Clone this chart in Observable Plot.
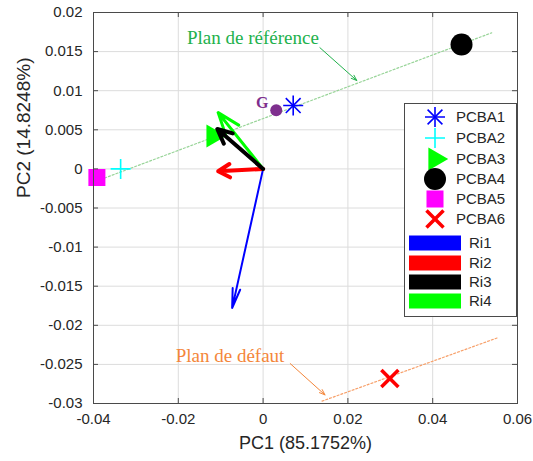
<!DOCTYPE html>
<html>
<head>
<meta charset="utf-8">
<script src="https://cdn.jsdelivr.net/npm/d3@7"></script>
<script src="https://cdn.jsdelivr.net/npm/@observablehq/plot@0.6"></script>
<style>
  body { margin: 0; background: #fff; }
  #wrap { position: relative; width: 533px; height: 461px; }
  #legend { position: absolute; }
</style>
</head>
<body>
<div id="wrap"></div>
<script>
// ---- data ----
const pcbaNames = ["PCBA1", "PCBA2", "PCBA3", "PCBA4", "PCBA5", "PCBA6"];
const pcbaX = [0.0071, -0.0336, -0.0118, 0.0468, -0.0392, 0.0299];
const pcbaY = [0.0081, 0.0000, 0.0042, 0.0159, -0.0011, -0.0268];

const riNames = ["Ri1", "Ri2", "Ri3", "Ri4"];
const riX = [-0.0073, -0.0106, -0.0108, -0.0106];
const riY = [-0.0178, -0.0003, 0.0051, 0.0072];

const gLabel = "G";
const gX = [0.0031];
const gY = [0.0075];

const refLineX = [-0.0400, 0.0539];
const refLineY = [-0.0017, 0.0174];
const defLineX = [0.0139, 0.0553];
const defLineY = [-0.0297, -0.0216];

const annLabels = ["Plan de référence", "Plan de défaut"];
const annTextX = [-0.0024, -0.0078];
const annTextY = [0.0168, -0.0239];
const annArrowX1 = [0.0134, 0.0064];
const annArrowY1 = [0.0155, -0.0249];
const annArrowX2 = [0.0221, 0.0146];
const annArrowY2 = [0.0113, -0.0289];

const xTicks = [-0.04, -0.02, 0, 0.02, 0.04, 0.06];
const xTickLabels = ["-0.04", "-0.02", "0", "0.02", "0.04", "0.06"];
const yTicks = [-0.03, -0.025, -0.02, -0.015, -0.01, -0.005, 0, 0.005, 0.01, 0.015, 0.02];
const yTickLabels = ["-0.03", "-0.025", "-0.02", "-0.015", "-0.01", "-0.005", "0", "0.005", "0.01", "0.015", "0.02"];

const xLabel = "PC1 (85.1752%)";
const yLabel = "PC2 (14.8248%)";

// ---- styles ----
const pcbaColor = {PCBA1: "#0000ff", PCBA2: "#00ffff", PCBA3: "#00ff00", PCBA4: "#000000", PCBA5: "#ff00ff", PCBA6: "#ff0000"};
const riColor = {Ri1: "#0000ff", Ri2: "#ff0000", Ri3: "#000000", Ri4: "#00ff00"};
const riStyle = {
  Ri1: {strokeWidth: 2, headLength: 15, headAngle: 22},
  Ri2: {strokeWidth: 4, headLength: 5, headAngle: 60},
  Ri4: {strokeWidth: 3, headLength: 14, headAngle: 40},
  Ri3: {strokeWidth: 4, headLength: 6, headAngle: 50}
};
const symStyle = {
  PCBA1: [{symbol: "plus", r: 6.5, sw: 1.6}, {symbol: "times", r: 6.8, sw: 1.6}],
  PCBA2: [{symbol: "plus", r: 6.5, sw: 1.6}],
  PCBA3: [{symbol: "triangle", r: 8.5, rotate: 90, fill: true}],
  PCBA4: [{symbol: "circle", r: 11, fill: true}],
  PCBA5: [{symbol: "square", r: 9.6, fill: true}],
  PCBA6: [{symbol: "times", r: 7.8, sw: 3.5}]
};
const annColor = ["#22b14c", "#f4863a"];
const gColor = "#7e2f8e";
const axisColor = "#4a4a4a";
const textColor = "#262626";

// ---- build tables ----
const pcba = pcbaNames.map((n, i) => ({name: n, x: pcbaX[i], y: pcbaY[i]}));
const ri = riNames.map((n, i) => ({name: n, x: riX[i], y: riY[i]}));
const refLine = refLineX.map((x, i) => ({x, y: refLineY[i]}));
const defLine = defLineX.map((x, i) => ({x, y: defLineY[i]}));
const ann = annLabels.map((t, i) => ({t, x: annTextX[i], y: annTextY[i], x1: annArrowX1[i], y1: annArrowY1[i], x2: annArrowX2[i], y2: annArrowY2[i], c: annColor[i]}));
const gData = gX.map((x, i) => ({x, y: gY[i]}));

const W = 533, H = 461, mL = 93, mR = 16, mT = 12, mB = 58;
const plotW = W - mL - mR, plotH = H - mT - mB;

const markerMarks = pcbaNames.flatMap(n => symStyle[n].map(s => Plot.dot(pcba.filter(d => d.name === n), {
  x: "x", y: "y", symbol: s.symbol, r: s.r, rotate: s.rotate || 0,
  ...(s.fill ? {fill: pcbaColor[n], stroke: "none"} : {fill: "none", stroke: pcbaColor[n], strokeWidth: s.sw})
})));

const marks = [
  Plot.gridX(xTicks, {stroke: "#dcdcdc", strokeOpacity: 1}),
  Plot.gridY(yTicks, {stroke: "#dcdcdc", strokeOpacity: 1}),
  Plot.line(refLine, {x: "x", y: "y", stroke: "#98d498", strokeWidth: 1.2, strokeDasharray: "2,2"}),
  Plot.line(defLine, {x: "x", y: "y", stroke: "#f7a06a", strokeWidth: 1.2, strokeDasharray: "2,2"}),
  ...markerMarks,
  Plot.dot(gData, {x: "x", y: "y", r: 6, fill: gColor}),
  Plot.text(gData, {x: "x", y: "y", text: () => gLabel, dx: -14, dy: -7, fill: gColor, fontFamily: "Liberation Serif", fontWeight: "bold", fontSize: 16}),
  ...["Ri1", "Ri2", "Ri4", "Ri3"].map(n => Plot.arrow(ri.filter(d => d.name === n), {
    x1: () => 0, y1: () => 0, x2: "x", y2: "y", stroke: riColor[n], ...riStyle[n]
  })),
  Plot.arrow(ann, {x1: "x1", y1: "y1", x2: "x2", y2: "y2", stroke: "c", strokeWidth: 1, headLength: 9, headAngle: 40}),
  Plot.text(ann, {x: "x", y: "y", text: "t", fill: "c", fontFamily: "Liberation Serif", fontSize: 19}),
  Plot.tickX(xTicks, {x: d => d, stroke: axisColor, insetTop: plotH - 5}),
  Plot.tickX(xTicks, {x: d => d, stroke: axisColor, insetBottom: plotH - 5}),
  Plot.tickY(yTicks, {y: d => d, stroke: axisColor, insetRight: plotW - 5}),
  Plot.tickY(yTicks, {y: d => d, stroke: axisColor, insetLeft: plotW - 5}),
  Plot.frame({stroke: axisColor, strokeWidth: 1}),
  Plot.axisX({ticks: xTicks, tickFormat: d => xTickLabels[xTicks.indexOf(d)], tickSize: 0, tickPadding: 10, fontSize: 15, fill: textColor, label: null}),
  Plot.axisY({ticks: yTicks, tickFormat: d => yTickLabels[yTicks.indexOf(d)], tickSize: 0, tickPadding: 11, fontSize: 15, fill: textColor, label: null}),
  Plot.text([xLabel], {frameAnchor: "bottom", text: d => d, dy: 45, fontSize: 18, fill: textColor}),
  Plot.text([yLabel], {frameAnchor: "left", text: d => d, rotate: -90, dx: -70, dy: -10, fontSize: 19, fill: textColor})
];

const chart = Plot.plot({
  width: W, height: H,
  marginLeft: mL, marginRight: mR, marginTop: mT, marginBottom: mB,
  x: {domain: [-0.04, 0.06], axis: null},
  y: {domain: [-0.03, 0.02], axis: null},
  style: {fontFamily: "'Liberation Sans', Arial, sans-serif", fontSize: "15px", background: "#fff", overflow: "visible"},
  marks
});

const wrap = document.getElementById("wrap");
wrap.appendChild(chart);

// ---- legend (overlay, symbols drawn with d3) ----
const lg = d3.select(wrap).append("svg").attr("id", "legend")
  .attr("width", 113).attr("height", 215)
  .style("left", "404px").style("top", "103px");
lg.append("rect").attr("x", 0.5).attr("y", 0.5).attr("width", 112).attr("height", 213)
  .attr("fill", "#fff").attr("stroke", axisColor);
const rowY = [14, 35, 56, 76, 96, 116];
const d3Sym = {plus: d3.symbolPlus, times: d3.symbolTimes, triangle: d3.symbolTriangle, circle: d3.symbolCircle, square: d3.symbolSquare};
pcbaNames.forEach((n, i) => {
  const g = lg.append("g").attr("transform", `translate(31,${rowY[i]})`);
  symStyle[n].forEach(s => {
    const p = g.append("path").attr("d", d3.symbol(d3Sym[s.symbol], Math.PI * s.r * s.r)())
      .attr("transform", s.rotate ? `rotate(${s.rotate})` : null);
    if (s.fill) p.attr("fill", pcbaColor[n]);
    else p.attr("fill", "none").attr("stroke", pcbaColor[n]).attr("stroke-width", s.sw);
  });
  lg.append("text").attr("x", 52).attr("y", rowY[i]).attr("dy", "0.36em")
    .attr("font-family", "'Liberation Sans', Arial, sans-serif").attr("font-size", 15)
    .attr("fill", textColor).text(n);
});
const barY = [140, 160, 179, 198];
riNames.forEach((n, i) => {
  lg.append("rect").attr("x", 5).attr("y", barY[i] - 7.5).attr("width", 52).attr("height", 15).attr("fill", riColor[n]);
  lg.append("text").attr("x", 65).attr("y", barY[i]).attr("dy", "0.36em")
    .attr("font-family", "'Liberation Sans', Arial, sans-serif").attr("font-size", 15)
    .attr("fill", textColor).text(n);
});
</script>
</body>
</html>
